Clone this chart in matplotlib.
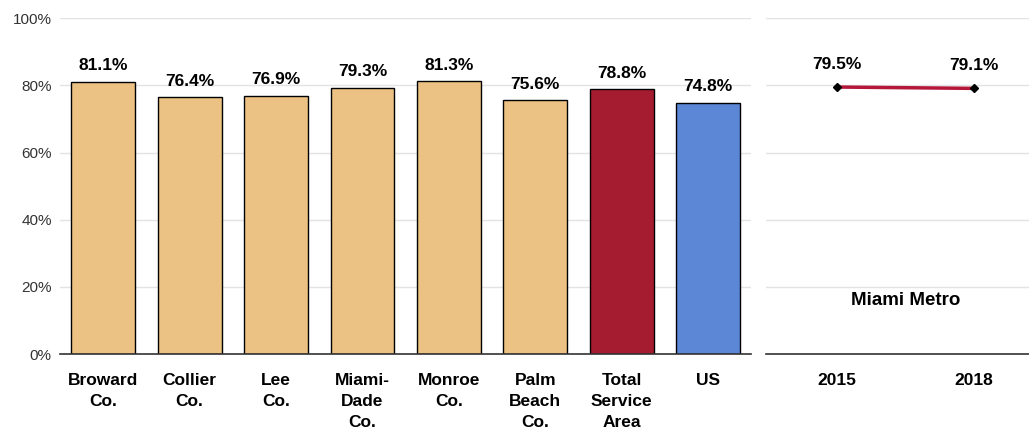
import numpy as np
import matplotlib.pyplot as plt
from matplotlib.ticker import PercentFormatter

plt.rcParams['font.family'] = ['Liberation Sans Narrow', 'Liberation Sans', 'DejaVu Sans']

areas = ['Broward\nCo.', 'Collier\nCo.', 'Lee\nCo.', 'Miami-\nDade\nCo.', 'Monroe\nCo.',
         'Palm\nBeach\nCo.', 'Total\nService\nArea', 'US']
values = [81.1, 76.4, 76.9, 79.3, 81.3, 75.6, 78.8, 74.8]
colors = ['#EBC283'] * 6 + ['#A51C30', '#5B87D6']

years = ['2015', '2018']
metro = [79.5, 79.1]

fig = plt.figure(figsize=(10.29, 4.30), dpi=100)
ax = fig.add_axes([0.0583, 0.1767, 0.672, 0.781])
ax2 = fig.add_axes([0.744, 0.1767, 0.256, 0.781])

x = np.arange(len(areas))
ax.bar(x, values, width=0.74, color=colors, edgecolor='black', linewidth=1, zorder=3)
for xi, v in zip(x, values):
    ax.text(xi, v + 2.5, f'{v:.1f}%', ha='center', va='bottom', fontsize=12.5, fontweight='bold')
ax.set_xlim(-0.5, len(areas) - 0.5)
ax.set_ylim(0, 100)
ax.set_yticks(range(0, 101, 20))
ax.yaxis.set_major_formatter(PercentFormatter(decimals=0))
ax.set_xticks(x)
ax.set_xticklabels(areas, fontsize=12.5, fontweight='bold', linespacing=1.5, va='top')
ax.tick_params(axis='x', length=0, pad=14)
ax.tick_params(axis='y', length=0, labelsize=11, labelcolor='#333333', pad=6)
ax.grid(axis='y', color='#E3E3E3', linewidth=1, zorder=0)
for s in ['left', 'right', 'top']:
    ax.spines[s].set_visible(False)
ax.spines['bottom'].set_color('#333333')
ax.spines['bottom'].set_linewidth(1.2)
ax.spines['bottom'].set_zorder(4)

xp = np.arange(len(years))
ax2.plot(xp, metro, color='#B5173A', linewidth=2.5, marker='D', markersize=4,
         markerfacecolor='black', markeredgecolor='black', zorder=3)
for xi, v in zip(xp, metro):
    ax2.text(xi, v + 4.5, f'{v:.1f}%', ha='center', va='bottom', fontsize=12.5, fontweight='bold')
ax2.text(0.5, 16, 'Miami Metro', ha='center', va='center', fontsize=13.5, fontweight='bold')
ax2.set_xlim(-0.518, 1.401)
ax2.set_ylim(0, 100)
ax2.set_yticks(range(0, 101, 20))
ax2.set_yticklabels([])
ax2.set_xticks(xp)
ax2.set_xticklabels(years, fontsize=12.5, fontweight='bold')
ax2.tick_params(axis='x', length=0, pad=14)
ax2.tick_params(axis='y', length=0)
ax2.grid(axis='y', color='#E3E3E3', linewidth=1, zorder=0)
for s in ['left', 'right', 'top']:
    ax2.spines[s].set_visible(False)
ax2.spines['bottom'].set_color('#333333')
ax2.spines['bottom'].set_linewidth(1.2)

fig.savefig('out.png', dpi=100)
